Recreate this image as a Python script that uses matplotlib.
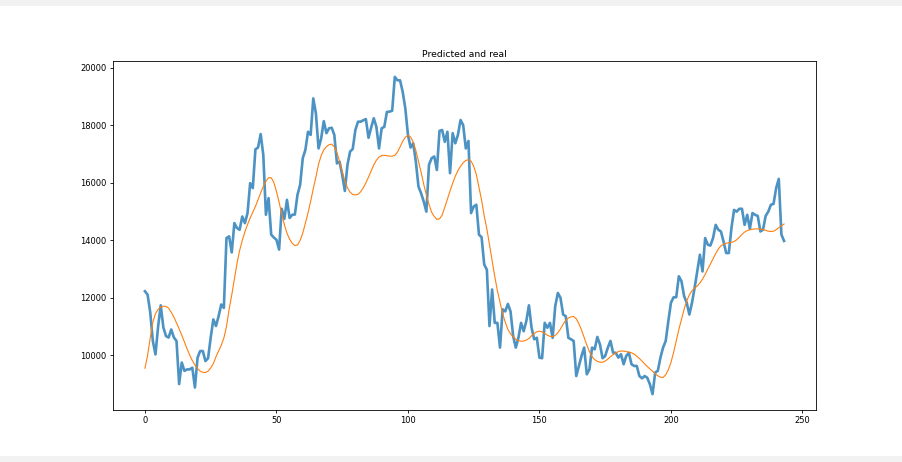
import numpy as np
import matplotlib
matplotlib.use("Agg")
import matplotlib.pyplot as plt
from matplotlib.patches import Rectangle

# real prices (blue) and model prediction (orange)
real = [
    12230, 12110, 11500, 10500, 10030, 11000, 11740, 10970, 10670, 10620,
    10900, 10620, 10500, 9000, 9750, 9460, 9510, 9510, 9570, 8880,
    9920, 10150, 10150, 9800, 9900, 10620, 11250, 11020, 11360, 11770,
    11650, 14080, 14140, 13580, 14600, 14430, 14370, 14830, 14600, 14950,
    15990, 15820, 17170, 17230, 17700, 16970, 14890, 15470, 14200, 14100,
    14020, 13680, 15100, 14750, 15410, 14780, 14890, 14900, 15590, 15930,
    16860, 17150, 17780, 17670, 18940, 18420, 17200, 17550, 18150, 17730,
    17900, 17920, 17670, 16680, 16740, 16280, 15720, 16630, 17090, 17180,
    17840, 18130, 18130, 18180, 18220, 17570, 17920, 18250, 17950, 17200,
    17900, 17950, 18470, 18480, 18510, 19690, 19570, 19570, 19170, 18590,
    17670, 17230, 17380, 16740, 15870, 15640, 15350, 15000, 16630, 16860,
    16920, 16450, 17810, 17840, 17430, 17780, 16340, 17730, 17380, 17670,
    18190, 18010, 17200, 17460, 14950, 15180, 15240, 14200, 14110, 13160,
    12980, 11020, 12290, 11130, 11130, 10270, 11600, 11530, 11790, 11530,
    10670, 10270, 10610, 11130, 10840, 11190, 11740, 10960, 10560, 10610,
    9920, 9900, 11130, 10960, 11130, 10610, 11710, 12170, 12000, 11420,
    11360, 10610, 10560, 10500, 9280, 9630, 9980, 10270, 9340, 9510,
    10270, 10210, 10640, 10380, 9900, 9980, 10270, 10500, 10090, 10090,
    9920, 10040, 9690, 9980, 10090, 9690, 9630, 9630, 9280, 9200,
    9280, 9220, 8990, 8650, 9400, 9460, 9920, 10270, 10500, 11190,
    11830, 12020, 12020, 12750, 12580, 12060, 11830, 11420, 11830, 12350,
    12920, 13500, 12920, 14080, 13850, 13820, 14080, 14540, 14370, 14310,
    13960, 13560, 13560, 14430, 15060, 15000, 15100, 15100, 14540, 14890,
    14400, 14950, 14890, 14850, 14310, 14370, 14850, 15000, 15240, 15270,
    15820, 16140, 14200, 13980,
]

predicted = [
    9550, 10000, 10600, 11150, 11450, 11600, 11680, 11710, 11700, 11640,
    11500, 11330, 11130, 10920, 10700, 10460, 10230, 10010, 9820, 9660,
    9540, 9450, 9410, 9400, 9450, 9560, 9710, 9950, 10150, 10350,
    10600, 11000, 11600, 12100, 12650, 13200, 13650, 14000, 14300, 14550,
    14780, 14980, 15180, 15420, 15650, 15880, 16060, 16180, 16180, 16020,
    15700, 15330, 14920, 14550, 14250, 14040, 13900, 13820, 13840, 14000,
    14250, 14600, 14950, 15360, 15800, 16200, 16650, 16950, 17150, 17260,
    17330, 17350, 17250, 17050, 16750, 16400, 16070, 15830, 15680, 15600,
    15580, 15600, 15690, 15830, 16000, 16200, 16420, 16630, 16790, 16900,
    16950, 16960, 16950, 16930, 16930, 16960, 17070, 17250, 17450, 17590,
    17650, 17600, 17420, 17130, 16750, 16370, 15950, 15580, 15250, 14980,
    14830, 14730, 14750, 14880, 15150, 15440, 15720, 15990, 16230, 16430,
    16580, 16700, 16780, 16810, 16760, 16580, 16290, 15850, 15400, 14850,
    14400, 13850, 13300, 12750, 12250, 11850, 11450, 11150, 10900, 10750,
    10650, 10560, 10510, 10490, 10500, 10530, 10590, 10680, 10760, 10820,
    10840, 10820, 10760, 10700, 10660, 10650, 10690, 10790, 10920, 11080,
    11220, 11300, 11340, 11350, 11270, 11100, 10880, 10620, 10360, 10130,
    9950, 9850, 9790, 9760, 9760, 9800, 9870, 9950, 10020, 10080,
    10130, 10150, 10150, 10130, 10110, 10090, 10040, 9970, 9890, 9800,
    9700, 9610, 9530, 9450, 9360, 9290, 9240, 9230, 9320, 9500,
    9750, 10100, 10500, 10900, 11250, 11600, 11900, 12100, 12250, 12340,
    12410, 12520, 12650, 12820, 13000, 13180, 13360, 13540, 13700, 13810,
    13870, 13900, 13920, 13930, 13960, 14020, 14110, 14210, 14290, 14340,
    14370, 14390, 14400, 14400, 14400, 14380, 14350, 14320, 14310, 14320,
    14370, 14440, 14510, 14570,
]

fig = plt.figure(figsize=(9.03, 4.62), dpi=100)

# grey notebook bands above and below the output
fig.patches.append(Rectangle((0, 1 - 6 / 462), 1, 6 / 462, transform=fig.transFigure,
                             facecolor="#f2f2f2", edgecolor="none", zorder=0))
fig.patches.append(Rectangle((0, 0), 1, 6 / 462, transform=fig.transFigure,
                             facecolor="#f2f2f2", edgecolor="none", zorder=0))

ax = fig.add_axes([113 / 903, 52 / 462, 703 / 903, 349 / 462])
ax.plot(np.arange(len(real)), real, color="C0", alpha=0.8, linewidth=1.9)
ax.plot(np.arange(len(predicted)), predicted, color="C1", linewidth=0.8)

ax.set_title("Predicted and real", fontsize=6.7, pad=3)
ax.tick_params(labelsize=6, length=2.5, width=0.6, pad=2)
for s in ax.spines.values():
    s.set_linewidth(0.6)

fig.savefig("out.png", dpi=100)
